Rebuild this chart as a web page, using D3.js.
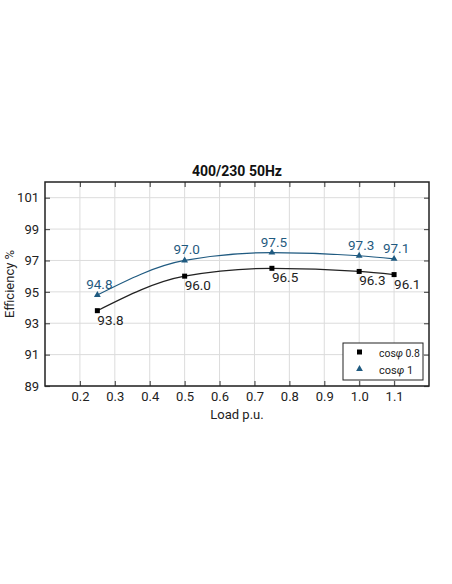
<!DOCTYPE html>
<html>
<head>
<meta charset="utf-8">
<script src="https://cdn.jsdelivr.net/npm/d3@7"></script>
<style>
  body { margin: 0; background: #fff; }
  text { font-family: Roboto, "Noto Sans", sans-serif; }
</style>
</head>
<body>
<div id="chart"></div>
<script>
// data
const loads = [0.25, 0.5, 0.75, 1.0, 1.1];
const effPf08 = [93.8, 96.0, 96.5, 96.3, 96.1];
const effPf1 = [94.8, 97.0, 97.5, 97.3, 97.1];
const xTicks = [0.2, 0.3, 0.4, 0.5, 0.6, 0.7, 0.8, 0.9, 1.0, 1.1];
const yTicks = [89, 91, 93, 95, 97, 99, 101];

const width = 452, height = 584;
const margin = { top: 182, right: 23, bottom: 198, left: 45 };
const blue = "#1f5a80";
const font = "Roboto, \"Noto Sans\", sans-serif";

const svg = d3.select("#chart").append("svg")
    .attr("width", width)
    .attr("height", height);

const x = d3.scaleLinear().domain([0.1, 1.2]).range([margin.left, width - margin.right]);
const y = d3.scaleLinear().domain([89, 102]).range([height - margin.bottom, margin.top]);

const x0 = x.range()[0], x1 = x.range()[1];
const y0 = y.range()[0], y1 = y.range()[1];

// grid
svg.append("g").selectAll("line")
    .data(xTicks).enter().append("line")
    .attr("x1", d => x(d)).attr("x2", d => x(d))
    .attr("y1", y0).attr("y2", y1)
    .attr("stroke", "#dcdcdc").attr("stroke-width", 1);
svg.append("g").selectAll("line")
    .data(yTicks).enter().append("line")
    .attr("x1", x0).attr("x2", x1)
    .attr("y1", d => y(d)).attr("y2", d => y(d))
    .attr("stroke", "#dcdcdc").attr("stroke-width", 1);

// axes, ticks pointing inward
const fmtX = d3.format(".1f");
svg.append("g")
    .attr("transform", "translate(0," + y0 + ")")
    .call(d3.axisBottom(x).tickValues(xTicks).tickFormat(fmtX).tickSize(-5).tickPadding(6));
svg.append("g")
    .attr("transform", "translate(" + x0 + ",0)")
    .call(d3.axisLeft(y).tickValues(yTicks).tickSize(-5).tickPadding(6));
svg.append("g")
    .attr("transform", "translate(0," + y1 + ")")
    .call(d3.axisTop(x).tickValues(xTicks).tickFormat("").tickSize(-5));
svg.append("g")
    .attr("transform", "translate(" + x1 + ",0)")
    .call(d3.axisRight(y).tickValues(yTicks).tickFormat("").tickSize(-5));

svg.selectAll(".domain").remove();
svg.selectAll(".tick line").attr("stroke", "#555").attr("stroke-width", 1.2);
svg.selectAll("g").attr("font-family", font);
svg.selectAll(".tick text").attr("font-size", "13px").attr("fill", "#222");

// frame
svg.append("rect")
    .attr("x", x0).attr("y", y1)
    .attr("width", x1 - x0).attr("height", y0 - y1)
    .attr("fill", "none").attr("stroke", "#222").attr("stroke-width", 1.5);

// title and axis labels
svg.append("text")
    .attr("x", (x0 + x1) / 2).attr("y", 176)
    .attr("text-anchor", "middle")
    .attr("font-size", "14px").attr("font-weight", "bold").attr("fill", "#111")
    .text("400/230 50Hz");
svg.append("text")
    .attr("x", (x0 + x1) / 2).attr("y", 419)
    .attr("text-anchor", "middle")
    .attr("font-size", "13px").attr("fill", "#222")
    .text("Load p.u.");
svg.append("text")
    .attr("transform", "translate(14," + ((y0 + y1) / 2) + ") rotate(-90)")
    .attr("text-anchor", "middle")
    .attr("font-size", "13px").attr("fill", "#222")
    .text("Efficiency %");

// series
const line = d3.line()
    .x(d => x(d[0]))
    .y(d => y(d[1]))
    .curve(d3.curveMonotoneX);

const s08 = loads.map((l, i) => [l, effPf08[i]]);
const s1 = loads.map((l, i) => [l, effPf1[i]]);

svg.append("path").datum(s08)
    .attr("d", line).attr("fill", "none")
    .attr("stroke", "#222").attr("stroke-width", 1.2);
svg.append("path").datum(s1)
    .attr("d", line).attr("fill", "none")
    .attr("stroke", blue).attr("stroke-width", 1.2);

svg.append("g").selectAll("rect")
    .data(s08).enter().append("rect")
    .attr("x", d => x(d[0]) - 2.5).attr("y", d => y(d[1]) - 2.5)
    .attr("width", 5).attr("height", 5)
    .attr("fill", "#000");

const tri = d3.symbol().type(d3.symbolTriangle).size(20);
svg.append("g").selectAll("path")
    .data(s1).enter().append("path")
    .attr("d", tri)
    .attr("transform", d => "translate(" + x(d[0]) + "," + y(d[1]) + ")")
    .attr("fill", blue);

// value labels
svg.append("g").selectAll("text")
    .data(s08).enter().append("text")
    .attr("x", d => x(d[0]))
    .attr("y", d => y(d[1]) + 14)
    .attr("font-size", "13.5px").attr("fill", "#222")
    .text(d => d[1].toFixed(1));
svg.append("g").selectAll("text")
    .data(s1).enter().append("text")
    .attr("x", d => x(d[0]) + 2)
    .attr("y", d => y(d[1]) - 6)
    .attr("text-anchor", "middle")
    .attr("font-size", "13.5px").attr("fill", blue)
    .text(d => d[1].toFixed(1));

// legend
const lg = svg.append("g").attr("transform", "translate(343,343)");
lg.append("rect")
    .attr("width", 80).attr("height", 37)
    .attr("fill", "#fff").attr("stroke", "#222").attr("stroke-width", 1);
lg.append("rect")
    .attr("x", 14).attr("y", 6.5).attr("width", 5).attr("height", 5)
    .attr("fill", "#000");
lg.append("path")
    .attr("d", tri)
    .attr("transform", "translate(16.5,26)")
    .attr("fill", blue);
const legendValues = ["0.8", "1"];
const lt = lg.selectAll("text.lbl")
    .data(legendValues).enter().append("text")
    .attr("class", "lbl")
    .attr("x", 36)
    .attr("y", (d, i) => 13.5 + i * 17.5)
    .attr("font-size", "11px").attr("fill", "#222");
lt.append("tspan").text("cos");
lt.append("tspan").attr("font-style", "italic").text("\u03c6");
lt.append("tspan").text(d => " " + d);
// squeeze a label if it would still run past the box
lt.each(function() {
    const w = this.getComputedTextLength();
    if (w > 41) d3.select(this).attr("textLength", 41).attr("lengthAdjust", "spacingAndGlyphs");
});
</script>
</body>
</html>
